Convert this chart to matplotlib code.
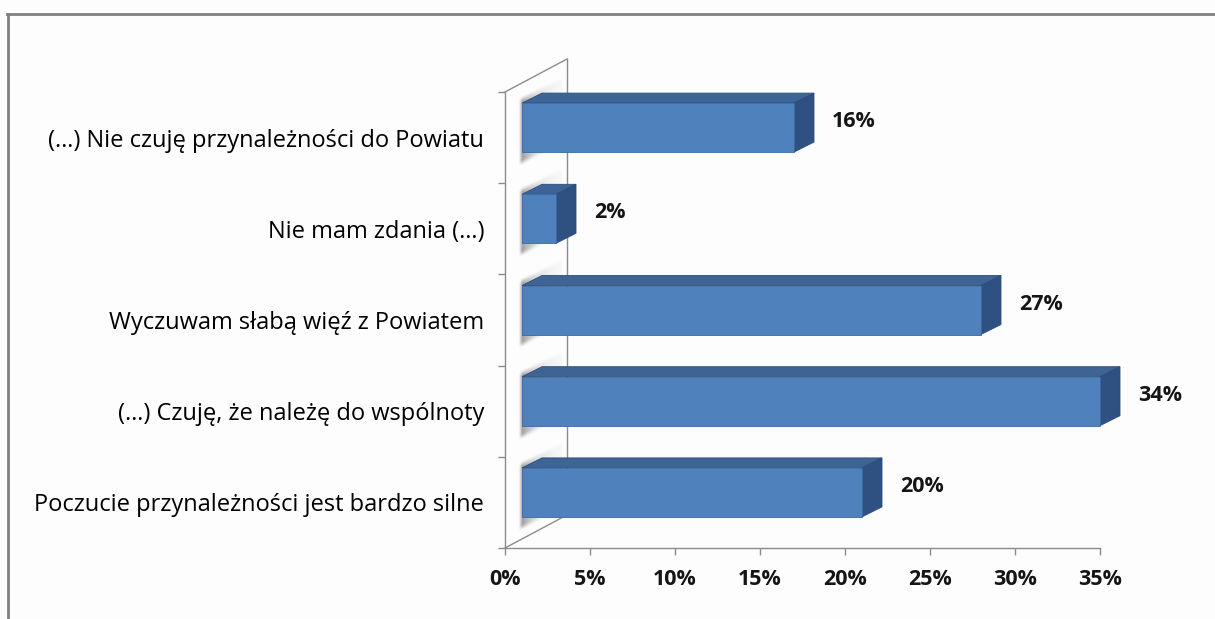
import matplotlib
matplotlib.use("Agg")
import numpy as np
import matplotlib.pyplot as plt
from matplotlib.patches import Polygon
from matplotlib.lines import Line2D

# data (bottom to top as drawn)
categories = [
    "Poczucie przynależności jest bardzo silne",
    "(…) Czuję, że należę do wspólnoty",
    "Wyczuwam słabą więź z Powiatem",
    "Nie mam zdania (…)",
    "(…) Nie czuję przynależności do Powiatu",
]
values = [20, 34, 27, 2, 16]
x_ticks = [0, 5, 10, 15, 20, 25, 30, 35]

plt.rcParams["font.family"] = ["Open Sans", "DejaVu Sans"]

W, H = 1215, 619
fig = plt.figure(figsize=(W / 100, H / 100), dpi=100)
fig.patch.set_facecolor("#fdfdfd")

# plot area in pixels: x 505..1100, y 92..548
ax = fig.add_axes([505 / W, (H - 548) / H, 595 / W, 456 / H])
ax.patch.set_alpha(0)

px_x = 35 / 595.0       # data units per pixel, x
px_y = 5 / 456.0        # data units per pixel, y

# 3d offsets (pixels -> data)
wall_dx, wall_dy = 62 * px_x, 33 * px_y
front_dx, front_dy = 17 * px_x, 10 * px_y
depth_dx, depth_dy = 20 * px_x, 10 * px_y
half_h = 24.5 * px_y

grid_col = "#8c8c8c"

# side wall
ax.plot([0, wall_dx], [4.5, 4.5 + wall_dy], color=grid_col, lw=1, clip_on=False, zorder=1)
ax.plot([0, wall_dx], [-0.5, -0.5 + wall_dy], color=grid_col, lw=1, clip_on=False, zorder=1)
ax.plot([wall_dx, wall_dx], [-0.5 + wall_dy, 4.5 + wall_dy], color=grid_col, lw=1,
        clip_on=False, zorder=1)

front_col = "#4f81bd"
top_col = "#3d6494"
side_col = "#2f5182"
edge_col = "#2c4d7a"


def soft_shadow(x0, y0, y1):
    # blurred slanted shadow on the wall, left of the bar
    u = np.linspace(-10, 40, 60)             # px right of bar start
    v = np.linspace(-25, 80, 120)            # px above bar bottom
    U, V = np.meshgrid(u, v)
    hpx = (y1 - y0) / px_y
    lo = -14 + 0.5 * U
    hi = hpx + 8 + 0.5 * U

    def ss(t):
        return np.clip(t, 0, 1) ** 2 * (3 - 2 * np.clip(t, 0, 1))

    a = ss((V - lo) / 7) * ss((hi - V) / 7) * ss((U + 4) / 5) * np.exp(-np.clip(U, 0, None) / 14)
    img = np.zeros(U.shape + (4,))
    img[..., :3] = 0.42
    img[..., 3] = 0.65 * a
    ax.imshow(img, origin="lower", aspect="auto", interpolation="bilinear",
              extent=(x0 + u[0] * px_x, x0 + u[-1] * px_x, y0 + v[0] * px_y, y0 + v[-1] * px_y),
              zorder=1.5, clip_on=False)


for i, v in enumerate(values):
    y0 = i + front_dy - half_h
    y1 = i + front_dy + half_h
    x0 = front_dx
    x1 = front_dx + v

    soft_shadow(x0, y0, y1)

    top = Polygon([(x0, y1), (x1, y1), (x1 + depth_dx, y1 + depth_dy), (x0 + depth_dx, y1 + depth_dy)],
                  closed=True, facecolor=top_col, edgecolor=edge_col, lw=0.6, zorder=3,
                  clip_on=False)
    side = Polygon([(x1, y0), (x1 + depth_dx, y0 + depth_dy), (x1 + depth_dx, y1 + depth_dy), (x1, y1)],
                   closed=True, facecolor=side_col, edgecolor=edge_col, lw=0.6, zorder=3,
                   clip_on=False)
    front = Polygon([(x0, y0), (x1, y0), (x1, y1), (x0, y1)],
                    closed=True, facecolor=front_col, edgecolor="#3a6aa3", lw=0.6, zorder=4,
                    clip_on=False)
    ax.add_patch(top)
    ax.add_patch(side)
    ax.add_patch(front)

    ax.text(x1 + depth_dx + 18 * px_x, i + 16 * px_y, f"{v}%", ha="left", va="center",
            fontsize=15.5, fontweight="bold", color="#151515", zorder=5)

ax.set_xlim(0, 35)
ax.set_ylim(-0.5, 4.5)

# axes styling
for s in ["top", "right"]:
    ax.spines[s].set_visible(False)
for s in ["left", "bottom"]:
    ax.spines[s].set_color(grid_col)
    ax.spines[s].set_linewidth(1)

ax.set_xticks(x_ticks)
ax.set_xticklabels([f"{t}%" for t in x_ticks])
ax.tick_params(axis="x", length=5, width=1, color=grid_col, pad=10,
               labelsize=15.5, labelcolor="#151515")
for lab in ax.get_xticklabels():
    lab.set_fontweight("bold")

ax.set_yticks(range(len(categories)))
ax.set_yticklabels(categories)
ax.set_yticks([b - 0.5 for b in range(len(categories) + 1)], minor=True)
ax.tick_params(axis="y", which="major", length=0, pad=15, labelsize=17, labelcolor="#000000")
ax.tick_params(axis="y", which="minor", length=5, width=1, color=grid_col)

# outer frame (cropped chart border)
fig.add_artist(Line2D([7 / W, 1], [1 - 14 / H, 1 - 14 / H], transform=fig.transFigure,
                      color="#808080", lw=2))
fig.add_artist(Line2D([8 / W, 8 / W], [0, 1 - 14 / H], transform=fig.transFigure,
                      color="#808080", lw=2))

fig.savefig("out.png", dpi=100, facecolor=fig.get_facecolor())
